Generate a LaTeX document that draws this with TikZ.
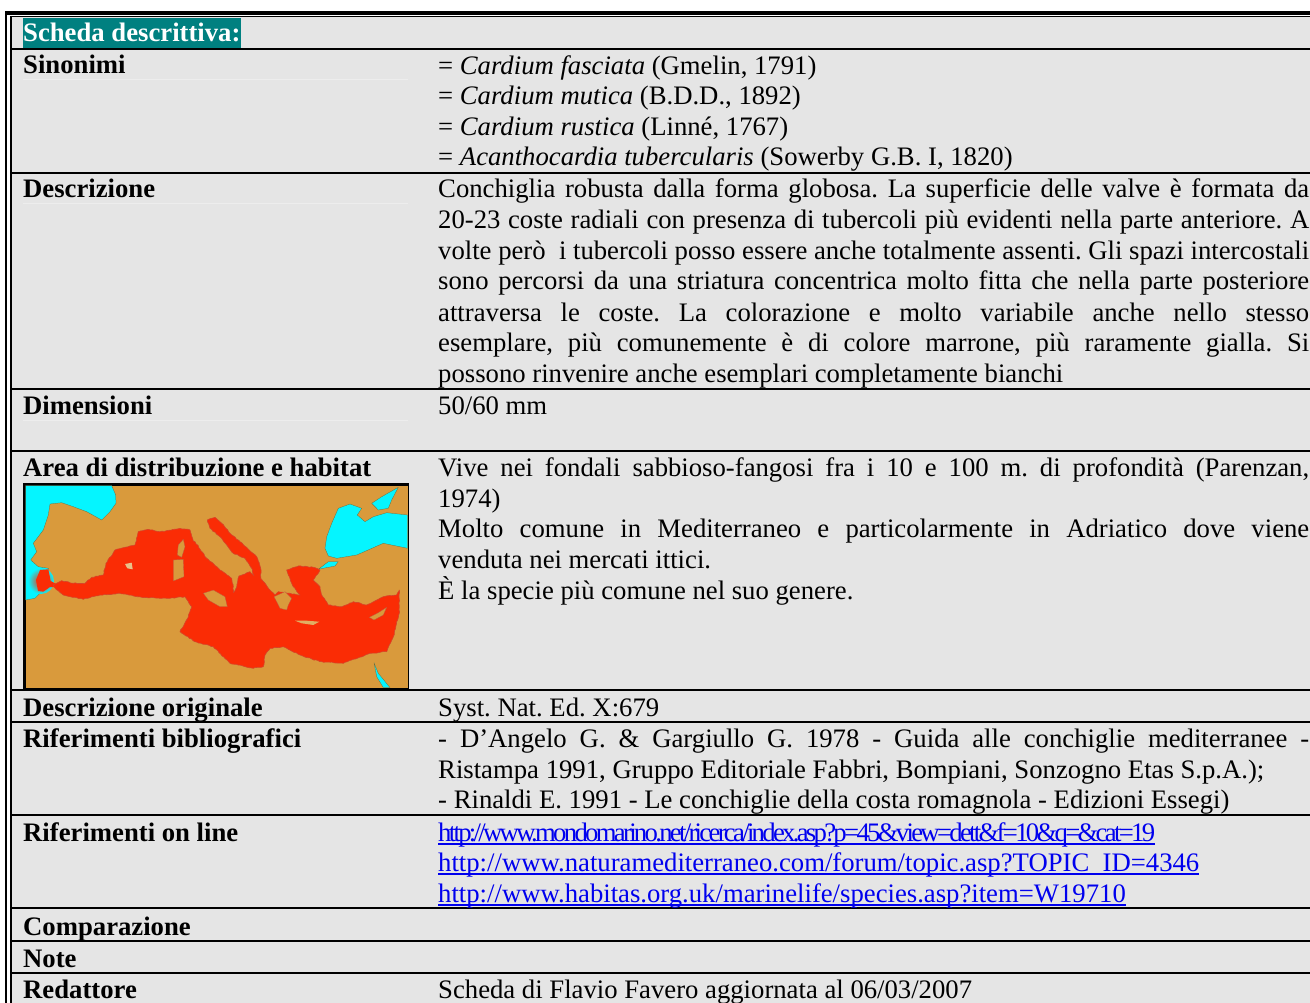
\documentclass[tikz,border=0pt]{standalone}
\usepackage{fontspec}
\usetikzlibrary{decorations.pathmorphing}
\setmainfont{Liberation Serif}
\frenchspacing
\definecolor{cellgray}{HTML}{E5E5E5}
\definecolor{faint}{HTML}{EDEDED}
\definecolor{teal1}{HTML}{008080}
\definecolor{landc}{HTML}{D99A3C}
\definecolor{seac}{HTML}{05F5FF}
\definecolor{redc}{HTML}{FA2C05}
\definecolor{linkc}{HTML}{0000EE}
\tikzset{
  lab/.style={anchor=base west,inner sep=0pt,font=\fontsize{26.7}{30}\selectfont\bfseries,text=black},
  txt/.style={anchor=base west,inner sep=0pt,font=\fontsize{26.7}{30}\selectfont,text=black},
  lnk/.style={anchor=base west,inner sep=0pt,font=\fontsize{26.7}{30}\selectfont,text=linkc},
  rowline/.style={line width=2.2pt,black},
  sep/.style={line width=1pt,faint},
  ul/.style={line width=2pt,linkc},
  rough/.style={decorate,decoration={random steps,segment length=2.2pt,amplitude=.45pt}},
  red/.style={fill=redc,draw=redc!70!gray,line width=.6pt,line join=round,rough},
  land/.style={fill=landc,draw=redc!55!gray,line width=.3pt,line join=round},
  sea/.style={fill=seac,draw=landc!60!black,line width=.25pt,line join=round},
}
\newcommand{\jl}[1]{\makebox[871pt][s]{#1}}
\begin{document}
\begin{tikzpicture}[x=1pt,y=-1pt]
\useasboundingbox (0,0) rectangle (1310,1003);
\fill[white] (0,0) rectangle (1310,1003);
% frame
\fill[cellgray] (12,16) rectangle (1310,1003);
\fill[black] (5,11) rectangle (7.3,1003);
\fill[black] (10,16) rectangle (12,1003);
\fill[black] (5,11) rectangle (1310,14.7);
\fill[black] (10,15.6) rectangle (1310,16.6);
% teal title
\fill[teal1] (23,18) rectangle (241,48);
\node[lab,text=white] (title) at (23,42) {Scheda descrittiva:};
% map
\fill[black] (23.2,483.2) rectangle (409,689);
\fill[landc] (25.6,485.6) rectangle (407.6,687.6);
\fill[sea] (25.6,485.6) -- (111.7,485.6) -- (115.7,495) -- (116,503.3) -- (110,511.7) -- (101.7,520) -- (86.7,511.7) -- (73.3,506.7) -- (61.7,502.7) -- (50,504) -- (48.3,515) -- (43.3,530) -- (33.3,543.3) -- (36.7,551.7) -- (30.7,560) -- (38.3,566.7) -- (48.3,568.3) -- (50,578.3) -- (43.3,590) -- (35,598.3) -- (25.6,600) -- cycle;
\shade[inner color=redc,outer color=seac] (41,581) circle (13);
\fill[sea] (325,548.3) -- (326.7,536.7) -- (331.7,523.3) -- (338.3,508.3) -- (350,504) -- (361.7,508.3) -- (357.3,515) -- (365,521.7) -- (373.3,516.7) -- (386.7,512.7) -- (407.6,515) -- (407.6,548.3) -- (383.3,543.3) -- (356.7,555) -- (336.7,558.3) -- (328.3,556) -- cycle;
\fill[sea] (371.7,503.3) -- (381.7,496.7) -- (398.3,487.3) -- (391.7,500) -- (388.3,508.3) -- (378.3,510) -- cycle;
\fill[sea] (318.3,569.3) -- (328.3,561.7) -- (338.3,561.7) -- (335,566) -- (323.3,568.3) -- cycle;
\fill[sea] (374,662.7) -- (378.3,673.3) -- (390,687.6) -- (383.3,687.6) -- (376.7,676.7) -- cycle;
% Gibraltar blob and strait
\path[fill=redc] (36,580) -- (40,570) -- (48.3,569.3) -- (50.7,581) -- (56,584) -- (56,587) -- (50,587) -- (43.3,591.7) -- (38,591) -- cycle;
% Mediterranean
\path[red] (53.3,585) -- (61.7,580.7) -- (73.3,583.3) -- (85,583.3) -- (91.7,577.3) -- (103.3,575) -- (106,563.3) -- (115,550) -- (135,545) -- (138.3,531.7) -- (148.3,529.3) -- (160,531.7) -- (180,528.3) -- (190,530) -- (193.3,541) -- (195,541.7) -- (206.7,558.3) -- (220,570) -- (231.7,578.3) -- (233.3,586.7) -- (233.3,592.7) -- (236.7,587.3) -- (239,576) -- (245,574) -- (250,571.7) -- (254,576) -- (251.7,568.3) -- (245,558.3) -- (233.3,553.3) -- (220,536.7) -- (210,528.3) -- (207.3,520) -- (215,517.3) -- (221.7,523.3) -- (230,533.3) -- (240,541.7) -- (256.7,556.7) -- (260.7,568.3) -- (260.7,578.3) -- (270,590) -- (275,595) -- (278.3,591.7) -- (290,593.3) -- (300,595) -- (293.3,586.7) -- (291.7,583.3) -- (286.7,570) -- (298.3,566) -- (313.3,567.3) -- (320,570) -- (313.3,580) -- (320,586.7) -- (321.7,595) -- (328.3,605) -- (341.7,606.7) -- (353.3,601.7) -- (366.7,605) -- (383.3,596.7) -- (396.7,595) -- (399.3,590) -- (399.3,613.3) -- (393.3,636.7) -- (386.7,651.7) -- (370,653.3) -- (343.3,663.3) -- (320,661.7) -- (300,655) -- (283.3,646.7) -- (270,648.3) -- (265,655) -- (263.3,666.7) -- (253.3,668.3) -- (230,663.3) -- (213.3,646.7) -- (195,641.7) -- (180,631.7) -- (188.3,616.7) -- (191.7,606.7) -- (185,596.7) -- (170,598.3) -- (141.7,597.3) -- (120,593.3) -- (100,595) -- (83.3,599.3) -- (63.3,595) -- (55,588) -- cycle;
% Islands
\path[land] (178.3,545) -- (183.3,539.3) -- (185,546.7) -- (181.7,557.3) -- (177.3,555) -- cycle;
\path[land] (173.3,560) -- (183.3,559.3) -- (184,576.7) -- (173.3,581) -- cycle;
\path[fill=landc!60!white] (125,564) -- (131.7,562.7) -- (132.7,569.3) -- (127.3,568.3) -- cycle;
\path[land] (203.3,593.3) -- (213.3,590) -- (225,596.7) -- (227.3,606.7) -- (220,606.7) -- (208.3,600) -- cycle;
\path[land] (274,596.7) -- (285,591.7) -- (291.7,598.3) -- (288.3,605) -- (286.7,610) -- (280,608.3) -- (276.7,601.7) -- cycle;
\path[fill=landc!80!white] (295,620.7) -- (306.7,620.7) -- (319.3,621.7) -- (313.3,625) -- (301.7,623.3) -- cycle;
\path[land] (369.3,617.3) -- (378.3,612.7) -- (386.7,607.3) -- (383.3,615) -- (374,620) -- cycle;
% row lines
\foreach \yy in {49,173,389,451,690,722,815,908,941,973}
  \draw[rowline] (12,\yy) -- (1310,\yy);
% faint separators
\foreach \yy in {80,204,420}
  \draw[sep] (23,\yy) -- (408,\yy);
% left labels
\node[lab] (l1) at (23,74) {Sinonimi};
\node[lab] (l2) at (23,198) {Descrizione};
\node[lab] (l3) at (23,414) {Dimensioni};
\node[lab] (l4) at (23,476) {Area di distribuzione e habitat};
\node[lab] (l5) at (23,716) {Descrizione originale};
\node[lab] (l6) at (23,747) {Riferimenti bibliografici};
\node[lab] (l7) at (23,841) {Riferimenti on line};
\node[lab] (l8) at (23,935) {Comparazione};
\node[lab] (l9) at (23,967) {Note};
\node[lab] (l10) at (23,998) {Redattore};
% synonyms
\node[txt] (s1) at (438,75) {= \textit{Cardium fasciata} (Gmelin, 1791)};
\node[txt] (s2) at (438,105) {= \textit{Cardium mutica} (B.D.D., 1892)};
\node[txt] (s3) at (438,136) {= \textit{Cardium rustica} (Linné, 1767)};
\node[txt] (s4) at (438,166) {= \textit{Acanthocardia tubercularis} (Sowerby G.B. I, 1820)};
% description
\node[txt] (d1) at (438,198) {\jl{Conchiglia robusta dalla forma globosa. La superficie delle valve è formata da}};
\node[txt] (d2) at (438,229) {\jl{20-23 coste radiali con presenza di tubercoli più evidenti nella parte anteriore. A}};
\node[txt] (d3) at (438,260) {\jl{volte però\ \ i tubercoli posso essere anche totalmente assenti. Gli spazi intercostali}};
\node[txt] (d4) at (438,290) {\jl{sono percorsi da una striatura concentrica molto fitta che nella parte posteriore}};
\node[txt] (d5) at (438,321) {\jl{attraversa le coste. La colorazione e molto variabile anche nello stesso}};
\node[txt] (d6) at (438,352) {\jl{esemplare, più comunemente è di colore marrone, più raramente gialla. Si}};
\node[txt] (d7) at (438,382) {possono rinvenire anche esemplari completamente bianchi};
\node[txt] (dim) at (438,414) {50/60 mm};
% habitat
\node[txt] (h1) at (438,476) {\jl{Vive nei fondali sabbioso-fangosi fra i 10 e 100 m. di profondità (Parenzan,}};
\node[txt] (h2) at (438,507) {1974)};
\node[txt] (h3) at (438,537) {\jl{Molto comune in Mediterraneo e particolarmente in Adriatico dove viene}};
\node[txt] (h4) at (438,568) {venduta nei mercati ittici.};
\node[txt] (h5) at (438,599) {È la specie più comune nel suo genere.};
% others
\node[txt] (o1) at (438,716) {Syst. Nat. Ed. X:679};
\node[txt] (r1) at (438,747) {\jl{- D’Angelo G. \& Gargiullo G. 1978 - Guida alle conchiglie mediterranee -}};
\node[txt] (r2) at (438,778) {Ristampa 1991, Gruppo Editoriale Fabbri, Bompiani, Sonzogno Etas S.p.A.);};
\node[txt] (r3) at (438,808) {- Rinaldi E. 1991 - Le conchiglie della costa romagnola - Edizioni Essegi)};
\node[lnk] (k1) at (438,841) {\addfontfeature{LetterSpace=-10.1}http://www.mondomarino.net/ricerca/index.asp?p=45\&view=dett\&f=10\&q=\&cat=19};
\node[lnk] (k2) at (438,871) {http://www.naturamediterraneo.com/forum/topic.asp?TOPIC\_ID=4346};
\node[lnk] (k3) at (438,902) {http://www.habitas.org.uk/marinelife/species.asp?item=W19710};
\foreach \n in {k1,k2,k3}
  \draw[ul] ([yshift=-3pt]\n.base west) -- ([yshift=-3pt]\n.base east);
\node[txt] (a1) at (438,998) {Scheda di Flavio Favero aggiornata al 06/03/2007};
\end{tikzpicture}
\end{document}
